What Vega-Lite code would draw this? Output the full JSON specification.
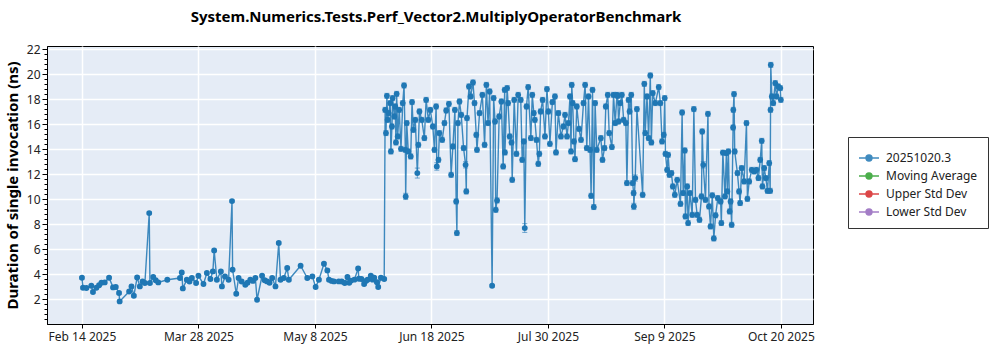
{
"$schema": "https://vega.github.io/schema/vega-lite/v6.json",
"width": 766, "height": 278,
"autosize": {"type": "none"},
"padding": {"left": 47, "top": 46, "right": 187, "bottom": 26},
"background": "white",
"title": {"text": "System.Numerics.Tests.Perf_Vector2.MultiplyOperatorBenchmark", "fontSize": 15, "fontWeight": "bold", "font": "Noto Sans", "color": "#000", "anchor": "middle", "dx": 6, "offset": 18},
"config": {"view": {"fill": "#E5ECF6", "stroke": "#000", "strokeWidth": 1}, "font": "Noto Sans"},
"data": {"values": [
{"t":"2025-02-14T16:00Z","v":3.70,"e":0.1},
{"t":"2025-02-15T01:00Z","v":2.90,"e":0.1},
{"t":"2025-02-16T06:00Z","v":2.88,"e":0.1},
{"t":"2025-02-18T00:00Z","v":3.06,"e":0.1},
{"t":"2025-02-18T14:00Z","v":2.56,"e":0.1},
{"t":"2025-02-19T19:00Z","v":2.90,"e":0.1},
{"t":"2025-02-20T18:00Z","v":3.10,"e":0.1},
{"t":"2025-02-21T14:00Z","v":3.30,"e":0.1},
{"t":"2025-02-22T18:00Z","v":3.33,"e":0.1},
{"t":"2025-02-24T07:00Z","v":3.70,"e":0.1},
{"t":"2025-02-25T17:00Z","v":2.93,"e":0.1},
{"t":"2025-02-26T16:00Z","v":2.96,"e":0.1},
{"t":"2025-02-27T20:00Z","v":2.48,"e":0.1},
{"t":"2025-02-28T01:00Z","v":1.81,"e":0.1},
{"t":"2025-03-03T10:00Z","v":2.60,"e":0.1},
{"t":"2025-03-04T06:00Z","v":3.01,"e":0.1},
{"t":"2025-03-05T02:00Z","v":2.26,"e":0.1},
{"t":"2025-03-06T06:00Z","v":3.73,"e":0.1},
{"t":"2025-03-07T05:00Z","v":3.01,"e":0.1},
{"t":"2025-03-08T04:00Z","v":3.40,"e":0.1},
{"t":"2025-03-09T00:00Z","v":3.28,"e":0.1},
{"t":"2025-03-10T13:00Z","v":8.88,"e":0.1},
{"t":"2025-03-10T19:00Z","v":3.28,"e":0.1},
{"t":"2025-03-11T23:00Z","v":3.76,"e":0.1},
{"t":"2025-03-12T20:00Z","v":3.50,"e":0.1},
{"t":"2025-03-13T18:00Z","v":3.33,"e":0.1},
{"t":"2025-03-16T23:00Z","v":3.54,"e":0.1},
{"t":"2025-03-21T11:00Z","v":3.68,"e":0.1},
{"t":"2025-03-22T02:00Z","v":4.13,"e":0.1},
{"t":"2025-03-22T11:00Z","v":2.85,"e":0.1},
{"t":"2025-03-23T21:00Z","v":3.54,"e":0.1},
{"t":"2025-03-24T20:00Z","v":3.40,"e":0.1},
{"t":"2025-03-25T16:00Z","v":3.68,"e":0.1},
{"t":"2025-03-27T04:00Z","v":3.28,"e":0.1},
{"t":"2025-03-28T00:00Z","v":3.86,"e":0.1},
{"t":"2025-03-29T19:00Z","v":3.20,"e":0.1},
{"t":"2025-03-31T00:00Z","v":4.08,"e":0.1},
{"t":"2025-04-01T06:00Z","v":3.60,"e":0.1},
{"t":"2025-04-02T03:00Z","v":4.21,"e":0.1},
{"t":"2025-04-02T14:00Z","v":5.89,"e":0.1},
{"t":"2025-04-03T13:00Z","v":3.54,"e":0.1},
{"t":"2025-04-04T23:00Z","v":4.21,"e":0.1},
{"t":"2025-04-05T08:00Z","v":3.01,"e":0.1},
{"t":"2025-04-06T10:00Z","v":3.80,"e":0.1},
{"t":"2025-04-07T17:00Z","v":3.54,"e":0.1},
{"t":"2025-04-08T22:00Z","v":9.84,"e":0.1},
{"t":"2025-04-09T03:00Z","v":4.34,"e":0.1},
{"t":"2025-04-10T10:00Z","v":2.42,"e":0.1},
{"t":"2025-04-11T06:00Z","v":3.68,"e":0.1},
{"t":"2025-04-12T08:00Z","v":3.40,"e":0.1},
{"t":"2025-04-13T15:00Z","v":3.14,"e":0.1},
{"t":"2025-04-14T10:00Z","v":3.30,"e":0.1},
{"t":"2025-04-15T10:00Z","v":3.54,"e":0.1},
{"t":"2025-04-16T08:00Z","v":3.45,"e":0.1},
{"t":"2025-04-17T05:00Z","v":3.68,"e":0.1},
{"t":"2025-04-17T19:00Z","v":1.94,"e":0.1},
{"t":"2025-04-19T14:00Z","v":3.86,"e":0.1},
{"t":"2025-04-20T12:00Z","v":3.50,"e":0.1},
{"t":"2025-04-21T09:00Z","v":3.41,"e":0.1},
{"t":"2025-04-22T06:00Z","v":3.30,"e":0.1},
{"t":"2025-04-23T04:00Z","v":3.68,"e":0.1},
{"t":"2025-04-24T08:00Z","v":3.01,"e":0.1},
{"t":"2025-04-25T12:00Z","v":6.48,"e":0.1},
{"t":"2025-04-26T03:00Z","v":3.54,"e":0.1},
{"t":"2025-04-27T07:00Z","v":3.68,"e":0.1},
{"t":"2025-04-28T12:00Z","v":4.48,"e":0.1},
{"t":"2025-04-29T02:00Z","v":3.54,"e":0.1},
{"t":"2025-05-03T06:00Z","v":4.66,"e":0.1},
{"t":"2025-05-05T15:00Z","v":3.68,"e":0.1},
{"t":"2025-05-07T10:00Z","v":3.81,"e":0.1},
{"t":"2025-05-08T14:00Z","v":2.96,"e":0.1},
{"t":"2025-05-09T18:00Z","v":3.54,"e":0.1},
{"t":"2025-05-11T13:00Z","v":4.82,"e":0.1},
{"t":"2025-05-12T18:00Z","v":4.29,"e":0.1},
{"t":"2025-05-13T08:00Z","v":3.54,"e":0.1},
{"t":"2025-05-14T06:00Z","v":3.45,"e":0.1},
{"t":"2025-05-15T02:00Z","v":3.41,"e":0.1},
{"t":"2025-05-16T19:00Z","v":3.41,"e":0.1},
{"t":"2025-05-17T20:00Z","v":3.40,"e":0.1},
{"t":"2025-05-18T22:00Z","v":3.28,"e":0.1},
{"t":"2025-05-19T21:00Z","v":3.76,"e":0.1},
{"t":"2025-05-20T12:00Z","v":3.30,"e":0.1},
{"t":"2025-05-21T01:00Z","v":3.46,"e":0.1},
{"t":"2025-05-22T08:00Z","v":3.55,"e":0.1},
{"t":"2025-05-23T16:00Z","v":4.45,"e":0.1},
{"t":"2025-05-23T22:00Z","v":3.62,"e":0.1},
{"t":"2025-05-24T20:00Z","v":3.60,"e":0.1},
{"t":"2025-05-25T19:00Z","v":3.20,"e":0.1},
{"t":"2025-05-26T10:00Z","v":3.45,"e":0.1},
{"t":"2025-05-27T00:00Z","v":3.54,"e":0.1},
{"t":"2025-05-28T04:00Z","v":3.86,"e":0.1},
{"t":"2025-05-28T20:00Z","v":3.55,"e":0.1},
{"t":"2025-05-29T09:00Z","v":3.70,"e":0.1},
{"t":"2025-05-30T08:00Z","v":3.35,"e":0.1},
{"t":"2025-05-30T19:00Z","v":2.96,"e":0.1},
{"t":"2025-05-31T18:00Z","v":3.70,"e":0.1},
{"t":"2025-06-01T22:00Z","v":3.60,"e":0.1},
{"t":"2025-06-02T06:00Z","v":17.14,"e":0.2},
{"t":"2025-06-02T13:00Z","v":15.28,"e":0.2},
{"t":"2025-06-02T21:00Z","v":18.26,"e":0.2},
{"t":"2025-06-03T03:00Z","v":16.34,"e":0.2},
{"t":"2025-06-03T12:00Z","v":16.88,"e":0.2},
{"t":"2025-06-04T01:00Z","v":17.68,"e":0.2},
{"t":"2025-06-04T07:00Z","v":13.81,"e":0.2},
{"t":"2025-06-04T16:00Z","v":15.81,"e":0.2},
{"t":"2025-06-04T22:00Z","v":18.08,"e":0.2},
{"t":"2025-06-05T12:00Z","v":16.61,"e":0.2},
{"t":"2025-06-05T20:00Z","v":17.41,"e":0.2},
{"t":"2025-06-06T02:00Z","v":14.53,"e":0.2},
{"t":"2025-06-06T08:00Z","v":18.42,"e":0.2},
{"t":"2025-06-06T17:00Z","v":15.01,"e":0.2},
{"t":"2025-06-07T06:00Z","v":17.14,"e":0.2},
{"t":"2025-06-07T21:00Z","v":14.02,"e":0.2},
{"t":"2025-06-08T12:00Z","v":17.68,"e":0.2},
{"t":"2025-06-08T23:00Z","v":19.09,"e":0.2},
{"t":"2025-06-09T10:00Z","v":13.94,"e":0.2},
{"t":"2025-06-09T13:00Z","v":10.21,"e":0.25},
{"t":"2025-06-09T22:00Z","v":16.08,"e":0.2},
{"t":"2025-06-10T11:00Z","v":13.81,"e":0.2},
{"t":"2025-06-11T08:00Z","v":13.41,"e":0.2},
{"t":"2025-06-11T19:00Z","v":17.76,"e":0.2},
{"t":"2025-06-12T06:00Z","v":15.54,"e":0.2},
{"t":"2025-06-12T23:00Z","v":16.34,"e":0.2},
{"t":"2025-06-13T16:00Z","v":12.08,"e":0.4},
{"t":"2025-06-14T01:00Z","v":14.34,"e":0.2},
{"t":"2025-06-14T10:00Z","v":17.01,"e":0.2},
{"t":"2025-06-15T06:00Z","v":16.34,"e":0.2},
{"t":"2025-06-16T04:00Z","v":14.88,"e":0.2},
{"t":"2025-06-16T19:00Z","v":17.94,"e":0.2},
{"t":"2025-06-17T14:00Z","v":16.34,"e":0.2},
{"t":"2025-06-18T07:00Z","v":17.14,"e":0.2},
{"t":"2025-06-19T04:00Z","v":15.81,"e":0.2},
{"t":"2025-06-19T18:00Z","v":13.94,"e":0.2},
{"t":"2025-06-20T08:00Z","v":17.41,"e":0.2},
{"t":"2025-06-20T14:00Z","v":12.61,"e":0.3},
{"t":"2025-06-21T04:00Z","v":13.14,"e":0.2},
{"t":"2025-06-21T12:00Z","v":15.28,"e":0.2},
{"t":"2025-06-22T12:00Z","v":14.74,"e":0.2},
{"t":"2025-06-23T07:00Z","v":16.08,"e":0.2},
{"t":"2025-06-23T22:00Z","v":17.09,"e":0.2},
{"t":"2025-06-24T21:00Z","v":17.62,"e":0.2},
{"t":"2025-06-25T16:00Z","v":11.94,"e":0.2},
{"t":"2025-06-26T07:00Z","v":14.21,"e":0.2},
{"t":"2025-06-27T00:00Z","v":17.14,"e":0.2},
{"t":"2025-06-27T11:00Z","v":9.81,"e":0.2},
{"t":"2025-06-27T17:00Z","v":7.28,"e":0.2},
{"t":"2025-06-28T02:00Z","v":16.08,"e":0.2},
{"t":"2025-06-28T15:00Z","v":17.81,"e":0.2},
{"t":"2025-06-29T06:00Z","v":16.74,"e":0.2},
{"t":"2025-06-30T02:00Z","v":14.08,"e":0.2},
{"t":"2025-06-30T19:00Z","v":12.74,"e":0.25},
{"t":"2025-07-01T01:00Z","v":10.61,"e":0.2},
{"t":"2025-07-01T07:00Z","v":16.48,"e":0.2},
{"t":"2025-07-02T00:00Z","v":19.01,"e":0.2},
{"t":"2025-07-02T14:00Z","v":18.21,"e":0.2},
{"t":"2025-07-03T10:00Z","v":19.33,"e":0.2},
{"t":"2025-07-03T23:00Z","v":17.68,"e":0.2},
{"t":"2025-07-04T14:00Z","v":15.14,"e":0.2},
{"t":"2025-07-04T20:00Z","v":13.94,"e":0.2},
{"t":"2025-07-05T18:00Z","v":16.88,"e":0.2},
{"t":"2025-07-06T18:00Z","v":18.34,"e":0.2},
{"t":"2025-07-07T13:00Z","v":14.34,"e":0.2},
{"t":"2025-07-08T04:00Z","v":19.14,"e":0.2},
{"t":"2025-07-08T18:00Z","v":16.08,"e":0.2},
{"t":"2025-07-09T08:00Z","v":18.61,"e":0.2},
{"t":"2025-07-10T05:00Z","v":3.06,"e":0.1},
{"t":"2025-07-10T18:00Z","v":18.08,"e":0.2},
{"t":"2025-07-11T06:00Z","v":16.21,"e":0.2},
{"t":"2025-07-11T12:00Z","v":9.14,"e":0.2},
{"t":"2025-07-11T23:00Z","v":9.89,"e":0.2},
{"t":"2025-07-12T17:00Z","v":16.61,"e":0.2},
{"t":"2025-07-13T12:00Z","v":17.81,"e":0.2},
{"t":"2025-07-14T03:00Z","v":12.61,"e":0.2},
{"t":"2025-07-14T16:00Z","v":18.74,"e":0.2},
{"t":"2025-07-14T18:00Z","v":13.73,"e":0.2},
{"t":"2025-07-15T13:00Z","v":18.88,"e":0.2},
{"t":"2025-07-15T21:00Z","v":17.68,"e":0.2},
{"t":"2025-07-16T11:00Z","v":15.01,"e":0.2},
{"t":"2025-07-17T02:00Z","v":14.53,"e":0.2},
{"t":"2025-07-17T08:00Z","v":11.54,"e":0.2},
{"t":"2025-07-18T01:00Z","v":17.94,"e":0.2},
{"t":"2025-07-18T20:00Z","v":13.62,"e":0.2},
{"t":"2025-07-19T11:00Z","v":18.34,"e":0.2},
{"t":"2025-07-20T09:00Z","v":17.94,"e":0.2},
{"t":"2025-07-20T21:00Z","v":13.14,"e":0.2},
{"t":"2025-07-21T11:00Z","v":14.61,"e":0.2},
{"t":"2025-07-21T19:00Z","v":7.68,"e":0.35},
{"t":"2025-07-22T10:00Z","v":17.41,"e":0.2},
{"t":"2025-07-23T00:00Z","v":18.96,"e":0.2},
{"t":"2025-07-23T23:00Z","v":14.88,"e":0.2},
{"t":"2025-07-24T11:00Z","v":18.34,"e":0.2},
{"t":"2025-07-25T00:00Z","v":16.88,"e":0.2},
{"t":"2025-07-25T09:00Z","v":16.34,"e":0.2},
{"t":"2025-07-25T23:00Z","v":14.74,"e":0.2},
{"t":"2025-07-26T14:00Z","v":12.82,"e":0.2},
{"t":"2025-07-26T23:00Z","v":13.62,"e":0.2},
{"t":"2025-07-27T10:00Z","v":17.01,"e":0.2},
{"t":"2025-07-28T03:00Z","v":17.94,"e":0.2},
{"t":"2025-07-28T23:00Z","v":15.01,"e":0.2},
{"t":"2025-07-29T16:00Z","v":18.80,"e":0.2},
{"t":"2025-07-30T04:00Z","v":17.01,"e":0.2},
{"t":"2025-07-30T17:00Z","v":14.42,"e":0.2},
{"t":"2025-07-31T14:00Z","v":17.76,"e":0.2},
{"t":"2025-08-01T12:00Z","v":18.21,"e":0.2},
{"t":"2025-08-01T21:00Z","v":13.73,"e":0.2},
{"t":"2025-08-02T17:00Z","v":16.88,"e":0.2},
{"t":"2025-08-03T15:00Z","v":15.01,"e":0.2},
{"t":"2025-08-04T12:00Z","v":15.81,"e":0.2},
{"t":"2025-08-05T02:00Z","v":16.74,"e":0.2},
{"t":"2025-08-05T19:00Z","v":15.01,"e":0.2},
{"t":"2025-08-06T07:00Z","v":16.08,"e":0.2},
{"t":"2025-08-06T20:00Z","v":18.21,"e":0.2},
{"t":"2025-08-07T05:00Z","v":13.81,"e":0.2},
{"t":"2025-08-07T11:00Z","v":19.14,"e":0.2},
{"t":"2025-08-07T19:00Z","v":17.68,"e":0.2},
{"t":"2025-08-08T06:00Z","v":14.61,"e":0.2},
{"t":"2025-08-08T15:00Z","v":13.19,"e":0.2},
{"t":"2025-08-09T06:00Z","v":17.41,"e":0.2},
{"t":"2025-08-10T01:00Z","v":15.62,"e":0.2},
{"t":"2025-08-10T18:00Z","v":14.74,"e":0.2},
{"t":"2025-08-11T15:00Z","v":17.68,"e":0.2},
{"t":"2025-08-12T05:00Z","v":19.14,"e":0.2},
{"t":"2025-08-12T19:00Z","v":14.08,"e":0.2},
{"t":"2025-08-13T10:00Z","v":18.21,"e":0.2},
{"t":"2025-08-13T23:00Z","v":13.94,"e":0.2},
{"t":"2025-08-14T08:00Z","v":10.26,"e":0.2},
{"t":"2025-08-14T20:00Z","v":18.74,"e":0.2},
{"t":"2025-08-15T07:00Z","v":9.36,"e":0.2},
{"t":"2025-08-15T18:00Z","v":17.68,"e":0.2},
{"t":"2025-08-16T08:00Z","v":13.94,"e":0.2},
{"t":"2025-08-17T19:00Z","v":14.88,"e":0.2},
{"t":"2025-08-18T09:00Z","v":13.14,"e":0.2},
{"t":"2025-08-19T02:00Z","v":14.08,"e":0.2},
{"t":"2025-08-19T13:00Z","v":17.41,"e":0.2},
{"t":"2025-08-20T06:00Z","v":18.34,"e":0.2},
{"t":"2025-08-20T18:00Z","v":15.28,"e":0.2},
{"t":"2025-08-21T17:00Z","v":14.16,"e":0.2},
{"t":"2025-08-22T07:00Z","v":18.34,"e":0.2},
{"t":"2025-08-22T21:00Z","v":16.08,"e":0.2},
{"t":"2025-08-23T12:00Z","v":18.34,"e":0.2},
{"t":"2025-08-23T18:00Z","v":18.26,"e":0.2},
{"t":"2025-08-24T02:00Z","v":16.21,"e":0.2},
{"t":"2025-08-24T16:00Z","v":17.68,"e":0.2},
{"t":"2025-08-25T06:00Z","v":18.34,"e":0.2},
{"t":"2025-08-25T21:00Z","v":16.34,"e":0.2},
{"t":"2025-08-26T16:00Z","v":16.08,"e":0.2},
{"t":"2025-08-27T01:00Z","v":11.28,"e":0.2},
{"t":"2025-08-27T15:00Z","v":17.94,"e":0.2},
{"t":"2025-08-28T00:00Z","v":17.01,"e":0.2},
{"t":"2025-08-28T14:00Z","v":18.34,"e":0.2},
{"t":"2025-08-29T02:00Z","v":11.28,"e":0.2},
{"t":"2025-08-29T10:00Z","v":10.48,"e":0.2},
{"t":"2025-08-29T12:00Z","v":9.41,"e":0.25},
{"t":"2025-08-30T00:00Z","v":11.68,"e":0.25},
{"t":"2025-08-30T14:00Z","v":17.20,"e":0.2},
{"t":"2025-09-01T15:00Z","v":10.34,"e":0.2},
{"t":"2025-09-02T05:00Z","v":19.22,"e":0.2},
{"t":"2025-09-02T13:00Z","v":15.28,"e":0.2},
{"t":"2025-09-03T04:00Z","v":18.21,"e":0.2},
{"t":"2025-09-03T18:00Z","v":14.88,"e":0.2},
{"t":"2025-09-04T08:00Z","v":19.89,"e":0.2},
{"t":"2025-09-04T17:00Z","v":14.53,"e":0.2},
{"t":"2025-09-05T05:00Z","v":18.48,"e":0.2},
{"t":"2025-09-06T03:00Z","v":17.68,"e":0.2},
{"t":"2025-09-07T08:00Z","v":18.96,"e":0.2},
{"t":"2025-09-07T22:00Z","v":17.68,"e":0.2},
{"t":"2025-09-08T12:00Z","v":14.61,"e":0.2},
{"t":"2025-09-09T03:00Z","v":15.14,"e":0.2},
{"t":"2025-09-09T11:00Z","v":18.08,"e":0.2},
{"t":"2025-09-09T17:00Z","v":13.62,"e":0.2},
{"t":"2025-09-10T07:00Z","v":12.34,"e":0.2},
{"t":"2025-09-10T16:00Z","v":13.54,"e":0.2},
{"t":"2025-09-11T03:00Z","v":11.94,"e":0.2},
{"t":"2025-09-11T20:00Z","v":12.08,"e":0.2},
{"t":"2025-09-12T08:00Z","v":11.01,"e":0.2},
{"t":"2025-09-13T01:00Z","v":10.34,"e":0.2},
{"t":"2025-09-13T21:00Z","v":11.54,"e":0.2},
{"t":"2025-09-15T01:00Z","v":9.62,"e":0.2},
{"t":"2025-09-15T15:00Z","v":16.93,"e":0.2},
{"t":"2025-09-16T00:00Z","v":10.48,"e":0.2},
{"t":"2025-09-16T14:00Z","v":13.89,"e":0.2},
{"t":"2025-09-16T19:00Z","v":8.61,"e":0.2},
{"t":"2025-09-17T10:00Z","v":11.01,"e":0.2},
{"t":"2025-09-17T18:00Z","v":8.08,"e":0.2},
{"t":"2025-09-18T09:00Z","v":10.48,"e":0.2},
{"t":"2025-09-19T05:00Z","v":8.74,"e":0.2},
{"t":"2025-09-19T19:00Z","v":17.20,"e":0.2},
{"t":"2025-09-20T09:00Z","v":9.94,"e":0.2},
{"t":"2025-09-20T23:00Z","v":8.74,"e":0.2},
{"t":"2025-09-21T19:00Z","v":8.34,"e":0.2},
{"t":"2025-09-22T12:00Z","v":10.21,"e":0.2},
{"t":"2025-09-22T18:00Z","v":15.41,"e":0.2},
{"t":"2025-09-23T03:00Z","v":12.74,"e":0.25},
{"t":"2025-09-23T22:00Z","v":9.94,"e":0.2},
{"t":"2025-09-24T19:00Z","v":16.82,"e":0.2},
{"t":"2025-09-25T04:00Z","v":9.41,"e":0.2},
{"t":"2025-09-25T17:00Z","v":7.81,"e":0.2},
{"t":"2025-09-26T08:00Z","v":10.30,"e":0.2},
{"t":"2025-09-26T21:00Z","v":6.85,"e":0.2},
{"t":"2025-09-27T12:00Z","v":8.70,"e":0.2},
{"t":"2025-09-28T07:00Z","v":10.08,"e":0.2},
{"t":"2025-09-29T07:00Z","v":9.81,"e":0.2},
{"t":"2025-09-29T13:00Z","v":8.08,"e":0.2},
{"t":"2025-09-30T02:00Z","v":13.72,"e":0.2},
{"t":"2025-09-30T20:00Z","v":10.21,"e":0.2},
{"t":"2025-10-01T08:00Z","v":13.68,"e":0.2},
{"t":"2025-10-01T16:00Z","v":10.61,"e":0.2},
{"t":"2025-10-02T01:00Z","v":13.81,"e":0.2},
{"t":"2025-10-02T12:00Z","v":9.01,"e":0.2},
{"t":"2025-10-02T20:00Z","v":9.81,"e":0.2},
{"t":"2025-10-03T05:00Z","v":7.94,"e":0.2},
{"t":"2025-10-03T17:00Z","v":15.73,"e":0.2},
{"t":"2025-10-03T19:00Z","v":17.14,"e":0.2},
{"t":"2025-10-04T01:00Z","v":18.40,"e":0.2},
{"t":"2025-10-04T07:00Z","v":13.81,"e":0.2},
{"t":"2025-10-05T06:00Z","v":12.08,"e":0.2},
{"t":"2025-10-05T20:00Z","v":10.61,"e":0.2},
{"t":"2025-10-06T05:00Z","v":9.68,"e":0.2},
{"t":"2025-10-06T18:00Z","v":12.48,"e":0.2},
{"t":"2025-10-07T15:00Z","v":11.41,"e":0.2},
{"t":"2025-10-08T11:00Z","v":16.08,"e":0.2},
{"t":"2025-10-08T19:00Z","v":10.02,"e":0.2},
{"t":"2025-10-09T10:00Z","v":11.41,"e":0.2},
{"t":"2025-10-10T08:00Z","v":12.34,"e":0.2},
{"t":"2025-10-11T05:00Z","v":12.21,"e":0.2},
{"t":"2025-10-12T00:00Z","v":12.34,"e":0.2},
{"t":"2025-10-12T17:00Z","v":11.68,"e":0.2},
{"t":"2025-10-13T08:00Z","v":13.14,"e":0.2},
{"t":"2025-10-13T21:00Z","v":14.66,"e":0.2},
{"t":"2025-10-14T03:00Z","v":11.01,"e":0.2},
{"t":"2025-10-14T18:00Z","v":12.48,"e":0.2},
{"t":"2025-10-15T08:00Z","v":11.68,"e":0.2},
{"t":"2025-10-15T22:00Z","v":10.66,"e":0.2},
{"t":"2025-10-16T13:00Z","v":12.88,"e":0.2},
{"t":"2025-10-16T21:00Z","v":10.66,"e":0.2},
{"t":"2025-10-17T00:00Z","v":17.14,"e":0.2},
{"t":"2025-10-17T02:00Z","v":20.74,"e":0.2},
{"t":"2025-10-17T11:00Z","v":18.21,"e":0.2},
{"t":"2025-10-17T23:00Z","v":17.68,"e":0.2},
{"t":"2025-10-18T16:00Z","v":19.28,"e":0.2},
{"t":"2025-10-19T03:00Z","v":18.21,"e":0.2},
{"t":"2025-10-19T18:00Z","v":19.01,"e":0.2},
{"t":"2025-10-20T11:00Z","v":18.88,"e":0.2},
{"t":"2025-10-20T16:00Z","v":17.94,"e":0.2}
]},
"encoding": {
  "x": {"field": "t", "type": "temporal",
    "scale": {"type": "utc", "domain": [{"year": 2025, "month": 2, "date": 2, "hours": 6, "minutes": 24, "utc": true}, {"year": 2025, "month": 11, "date": 1, "hours": 1, "minutes": 36, "utc": true}]},
    "axis": {"title": null, "format": "%b %-d %Y", "labelFontSize": 12, "labelColor": "#222", "labelFont": "Noto Sans", "tickSize": 4, "tickColor": "#000", "domainColor": "#000", "gridColor": "white", "gridWidth": 1.5, "labelPadding": 3, "labelFlush": false,
      "values": [
        {"year": 2025, "month": 2, "date": 14, "hours": 16, "utc": true},
        {"year": 2025, "month": 3, "date": 28, "hours": 0, "utc": true},
        {"year": 2025, "month": 5, "date": 8, "hours": 8, "utc": true},
        {"year": 2025, "month": 6, "date": 18, "hours": 16, "utc": true},
        {"year": 2025, "month": 7, "date": 30, "hours": 0, "utc": true},
        {"year": 2025, "month": 9, "date": 9, "hours": 8, "utc": true},
        {"year": 2025, "month": 10, "date": 20, "hours": 16, "utc": true}
      ]}}
},
"layer": [
  {"mark": {"type": "line", "strokeWidth": 1.4, "opacity": 0.85},
   "encoding": {
     "y": {"field": "v", "type": "quantitative", "scale": {"domain": [0, 22.25], "nice": false, "zero": false},
       "axis": {"values": [2, 4, 6, 8, 10, 12, 14, 16, 18, 20, 22], "title": "Duration of single invocation (ns)", "titleFontSize": 15, "titleFontWeight": "bold", "titleFont": "Noto Sans", "titleColor": "#000", "titlePadding": 6, "labelFontSize": 12, "labelColor": "#222", "labelFont": "Noto Sans", "tickSize": 5, "tickColor": "#000", "domainColor": "#000", "gridColor": "white", "gridWidth": 1.5, "labelPadding": 2}},
     "color": {"datum": "20251020.3", "type": "nominal",
       "scale": {"domain": ["20251020.3", "Moving Average", "Upper Std Dev", "Lower Std Dev"], "range": ["#1f77b4", "#2ca02c", "#d62728", "#9467bd"]},
       "legend": {"title": null, "orient": "none", "legendX": 801, "legendY": 91, "padding": 10, "fillColor": "white", "strokeColor": "#333", "labelFontSize": 12, "labelFont": "Noto Sans", "labelColor": "#222", "rowPadding": 1, "labelOffset": 6,
         "symbolType": "M-1,0L1,0M0.3,0A0.3,0.3,0,1,1,-0.3,0A0.3,0.3,0,1,1,0.3,0Z", "symbolSize": 400, "symbolStrokeWidth": 1.4,
         "encode": {"symbols": {"update": {"fill": {"scale": "color", "field": "value"}, "stroke": {"scale": "color", "field": "value"}, "opacity": {"value": 1}}}}}}
   }},
  {"mark": {"type": "errorbar", "ticks": true, "color": "#1f77b4", "opacity": 0.6},
   "encoding": {"y": {"field": "v", "type": "quantitative", "axis": null}, "yError": {"field": "e"}}},
  {"mark": {"type": "point", "filled": true, "size": 34, "opacity": 1},
   "encoding": {
     "y": {"field": "v", "type": "quantitative",
       "axis": {"orient": "left", "title": null, "labels": false, "domain": false, "grid": false, "tickSize": 3, "tickColor": "#000",
         "values": [0.4,0.8,1.2,1.6,2.4,2.8,3.2,3.6,4.4,4.8,5.2,5.6,6.4,6.8,7.2,7.6,8.4,8.8,9.2,9.6,10.4,10.8,11.2,11.6,12.4,12.8,13.2,13.6,14.4,14.8,15.2,15.6,16.4,16.8,17.2,17.6,18.4,18.8,19.2,19.6,20.4,20.8,21.2,21.6]}},
     "color": {"datum": "20251020.3", "type": "nominal"}
   }}
],
"resolve": {"axis": {"y": "independent"}}
}
